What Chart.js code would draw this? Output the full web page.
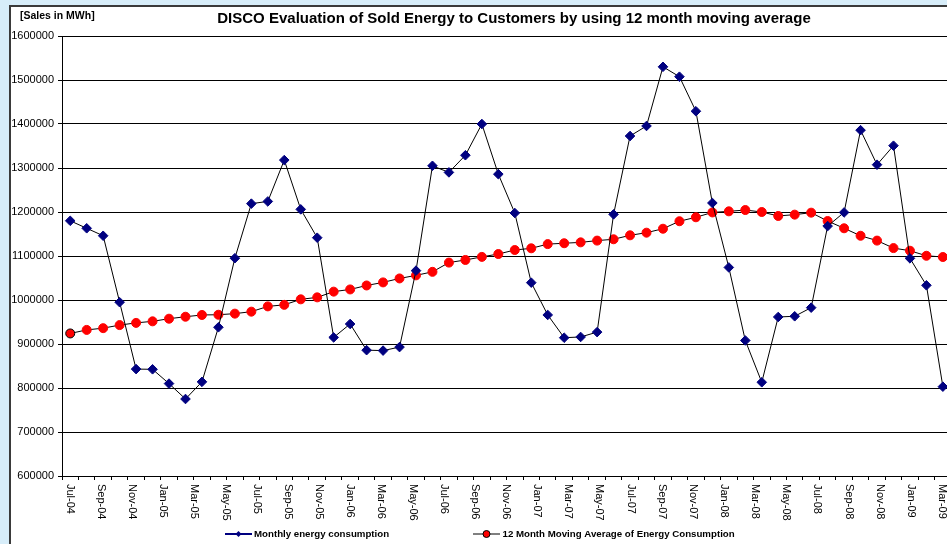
<!DOCTYPE html>
<html>
<head>
<meta charset="utf-8">
<script src="https://cdn.jsdelivr.net/npm/chart.js@4.4.1/dist/chart.umd.min.js"></script>
<style>
  html, body { margin: 0; padding: 0; }
  body { width: 947px; height: 544px; overflow: hidden; background: #d7edf9; position: relative; }
  #box { position: absolute; left: 9px; top: 5px; width: 1000px; height: 600px; background: #fff;
         border-left: 2px solid #3a3a3a; border-top: 2px solid #3a3a3a; }
  #myChart { position: absolute; left: 0; top: 0; }
</style>
</head>
<body>
<div id="box"></div>
<canvas id="myChart" width="947" height="544"></canvas>
<script>
// axis labels (every other month is shown)
var month_labels = ['Jul-04','Aug-04','Sep-04','Oct-04','Nov-04','Dec-04',
  'Jan-05','Feb-05','Mar-05','Apr-05','May-05','Jun-05','Jul-05','Aug-05','Sep-05','Oct-05','Nov-05','Dec-05',
  'Jan-06','Feb-06','Mar-06','Apr-06','May-06','Jun-06','Jul-06','Aug-06','Sep-06','Oct-06','Nov-06','Dec-06',
  'Jan-07','Feb-07','Mar-07','Apr-07','May-07','Jun-07','Jul-07','Aug-07','Sep-07','Oct-07','Nov-07','Dec-07',
  'Jan-08','Feb-08','Mar-08','Apr-08','May-08','Jun-08','Jul-08','Aug-08','Sep-08','Oct-08','Nov-08','Dec-08',
  'Jan-09','Feb-09','Mar-09'];

// Monthly energy consumption [MWh]
var monthly = [1180000,1163000,1146000,995000,843000,842500,810000,775000,814000,938000,
  1095000,1219000,1224000,1318000,1206000,1141600,915000,945500,886000,885000,
  893000,1066700,1305000,1290000,1329000,1400000,1286000,1197700,1039400,966000,
  914300,916000,927000,1194700,1372700,1395500,1530000,1507500,1429000,1220500,
  1074000,908000,813000,961400,963000,982600,1168000,1199000,1386000,1307500,
  1350700,1094700,1033400,803000];

// 12 month moving average
var moving_avg = [924000,932000,936000,943000,948000,951500,957500,962000,966000,966500,
  969000,973500,985500,989000,1001500,1006000,1019000,1024000,1033000,1040000,
  1049000,1056000,1064000,1085000,1091000,1098000,1104500,1113600,1117500,1127000,
  1129000,1131000,1135000,1138000,1147000,1153000,1162000,1179000,1188000,1199000,
  1201500,1204500,1200000,1191000,1194000,1198500,1179500,1163000,1146000,1135000,
  1118000,1112000,1100500,1097700];

var label_1 = 'Monthly energy consumption';
var label_2 = '12 Month Moving Average of Energy Consumption';
var chart_title = 'DISCO Evaluation of Sold Energy to Customers by using 12 month moving average';
var unit_text = '[Sales in MWh]';

var FONT = '"Liberation Sans", Arial, sans-serif';

// -------------------- title, month labels, legend
const decor = {
  id: 'decor',
  afterDraw(chart) {
    const ctx = chart.ctx;
    ctx.save();
    ctx.fillStyle = '#000';
    ctx.textBaseline = 'middle';
    ctx.font = 'bold 15px ' + FONT;
    ctx.textAlign = 'center';
    ctx.fillText(chart_title, 514, 19);
    ctx.font = 'bold 10.5px ' + FONT;
    ctx.textAlign = 'left';
    ctx.fillText(unit_text, 20, 16);

    // rotated month labels
    const xl = chart.scales.xl;
    ctx.font = '11px ' + FONT;
    xl.ticks.forEach(function (t) {
      const px = xl.getPixelForValue(t.value);
      ctx.save();
      ctx.translate(px, chart.chartArea.bottom + 8);
      ctx.rotate(Math.PI / 2);
      ctx.textAlign = 'left';
      ctx.textBaseline = 'middle';
      ctx.fillText(month_labels[t.value], 0, 0);
      ctx.restore();
    });

    // legend
    const ly = 534;
    ctx.font = 'bold 9.7px ' + FONT;
    ctx.strokeStyle = '#000080';
    ctx.lineWidth = 2;
    ctx.beginPath(); ctx.moveTo(225, ly); ctx.lineTo(252, ly); ctx.stroke();
    ctx.fillStyle = '#000080';
    ctx.beginPath();
    ctx.moveTo(238.5, ly - 3); ctx.lineTo(241.5, ly); ctx.lineTo(238.5, ly + 3); ctx.lineTo(235.5, ly);
    ctx.closePath(); ctx.fill();
    ctx.fillStyle = '#000';
    ctx.fillText(label_1, 254, ly);

    ctx.strokeStyle = '#000';
    ctx.lineWidth = 1;
    ctx.beginPath(); ctx.moveTo(473, ly); ctx.lineTo(500, ly); ctx.stroke();
    ctx.fillStyle = '#ff0000';
    ctx.beginPath(); ctx.arc(486.5, ly, 3.5, 0, Math.PI * 2); ctx.fill(); ctx.stroke();
    ctx.fillStyle = '#000';
    ctx.fillText(label_2, 502.5, ly);
    ctx.restore();
  }
};

const data = {
  datasets: [{
    label: label_1,
    data: monthly.map(function (v, i) { return {x: i, y: v}; }),
    borderColor: '#000',
    borderWidth: 1,
    pointStyle: 'rectRot',
    pointRadius: 4.8,
    pointBackgroundColor: '#000080',
    pointBorderColor: '#000080',
    pointBorderWidth: 1,
    tension: 0
  }, {
    label: label_2,
    data: moving_avg.map(function (v, i) { return {x: i, y: v}; }),
    borderColor: '#000',
    borderWidth: 1,
    pointStyle: 'circle',
    pointRadius: 4.5,
    pointBackgroundColor: '#ff0000',
    pointBorderColor: moving_avg.map(function (v, i) { return i === 0 ? '#000' : '#ff0000'; }),
    pointBorderWidth: 1,
    tension: 0
  }]
};

const config = {
  type: 'line',
  data: data,
  plugins: [decor],
  options: {
    responsive: false,
    animation: false,
    layout: { autoPadding: false, padding: { top: 36, bottom: 64, left: 0, right: 0 } },
    plugins: { legend: { display: false }, title: { display: false }, tooltip: { enabled: false } },
    scales: {
      x: {
        type: 'linear',
        position: 'bottom',
        min: -0.5,
        max: 53.25,
        afterBuildTicks: function (s) {
          var t = [];
          for (var i = 0; i < 54; i++) t.push({value: i - 0.5});
          s.ticks = t;
        },
        afterFit: function (s) { s.height = 4; },
        ticks: { display: false },
        grid: { drawOnChartArea: false, drawTicks: true, tickLength: 4, color: '#000' },
        border: { display: true, color: '#000', width: 1 }
      },
      xl: {
        type: 'linear',
        position: 'bottom',
        min: -0.51,
        max: 56.32,
        afterBuildTicks: function (s) {
          var t = [];
          for (var i = 0; i < month_labels.length; i += 2) t.push({value: i});
          s.ticks = t;
        },
        afterFit: function (s) { s.height = 0; },
        ticks: { display: false },
        grid: { display: false },
        border: { display: false }
      },
      y: {
        min: 600000,
        max: 1600000,
        afterFit: function (s) { s.width = 62; },
        ticks: {
          stepSize: 100000, color: '#000', padding: 4, font: { family: FONT, size: 11 },
          callback: function (v) { return String(v); }
        },
        grid: { color: '#000', lineWidth: 1, tickLength: 4 },
        border: { display: true, color: '#000', width: 1 }
      }
    }
  }
};

const myChart = new Chart(document.getElementById('myChart'), config);
</script>
</body>
</html>
